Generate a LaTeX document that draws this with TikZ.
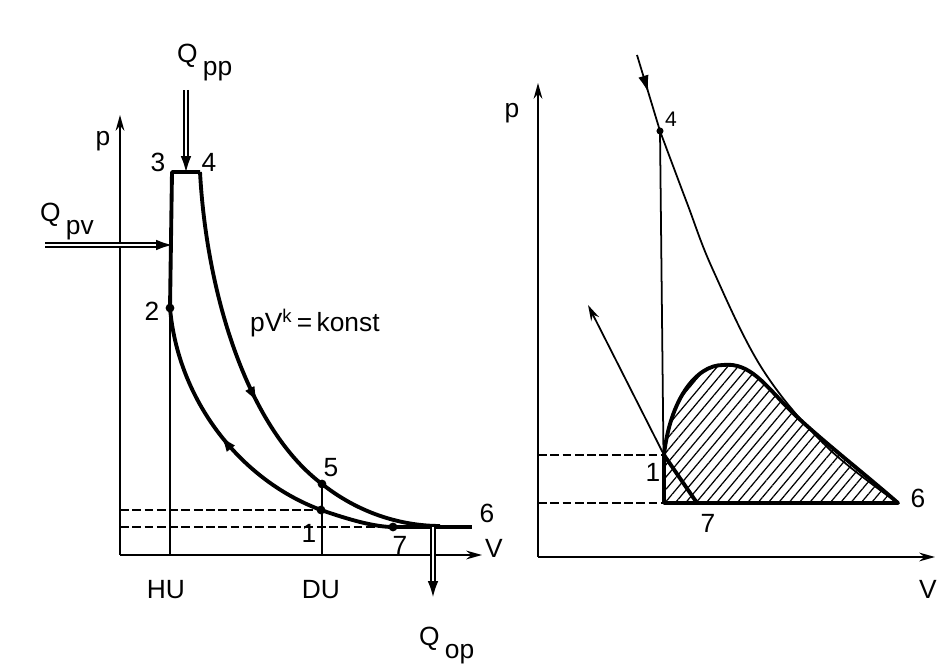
\documentclass[tikz,border=0pt]{standalone}
\usepackage{fontspec}
\setmainfont{Liberation Sans}
\usetikzlibrary{arrows.meta, decorations.markings, patterns.meta}

\begin{document}
\begin{tikzpicture}[x=0.02cm, y=-0.02cm, >={Stealth[length=9pt, width=5pt]},
  thinline/.style={line width=1pt},
  heavy/.style={line width=2.2pt, line join=round},
  dashline/.style={line width=1pt, dash pattern=on 5pt off 2pt},
  dot/.style={circle, fill, inner sep=0pt, minimum size=5pt},
  lbl/.style={font=\fontsize{15}{17}\selectfont, inner sep=1pt},
  heat/.style={double, double distance=1.6pt, line width=0.7pt, -{Latex[length=9pt, width=6pt]}},
  midarrow/.style={postaction={decorate}, decoration={markings,
    mark=at position #1 with {\arrow{Latex[length=10pt, width=6pt]}}}}]
  \useasboundingbox (0,0) rectangle (937,668);

  % left diagram: p-V cycle
  \coordinate (O1) at (120,555);
  \coordinate (ptipA) at (120,115);
  \coordinate (vtipA) at (482,555);
  \draw[thinline, ->] (O1) -- (ptipA);
  \draw[thinline, ->] (O1) -- (vtipA);

  \coordinate (n2) at (170,308);
  \coordinate (n3) at (172,172);
  \coordinate (n4) at (200,172);
  \coordinate (n5) at (322,484);
  \coordinate (n1) at (321,510);
  \coordinate (n7) at (393,527);
  \coordinate (n6) at (472,527);
  \coordinate (njoin) at (440,526);

  \draw[thinline] (n2) -- (n2 |- O1);
  \draw[thinline] (n5) -- (n5 |- O1);
  \draw[dashline] (O1 |- n1) -- (n1);
  \draw[dashline] (O1 |- n7) -- (n7);

  \draw[heavy] (n2) -- (n3) -- (n4);
  \draw[heavy, midarrow=0.7] (n4) .. controls (207,300) and (250,430) .. (n5);
  \draw[heavy] (n5) .. controls (365,518) and (410,526) .. (njoin);
  \draw[heavy, midarrow=0.48] (n1) .. controls (240,480) and (178,400) .. (n2);
  \draw[heavy] (n1) .. controls (350,520) and (375,527) .. (n7);
  \draw[heavy] (n7) -- (n6);
  \foreach \pt in {n2, n5, n1, n7} \node[dot] at (\pt) {};

  % heat flows
  \coordinate (qpv) at (45,245);
  \coordinate (qpp) at (186,90);
  \coordinate (qop) at (433,597);
  \draw[heat] (qpv) -- (qpv -| n3);
  \draw[heat] (qpp) -- (qpp |- n3);
  \draw[heat] (qop |- n6) -- (qop);

  \node[lbl] at (103,141) {p};
  \node[lbl] at (158,162) {3};
  \node[lbl] at (209,162) {4};
  \node[lbl] at (152,311) {2};
  \node[lbl] at (331,468) {5};
  \node[lbl] at (309,533) {1};
  \node[lbl] at (400,545) {7};
  \node[lbl] at (487,513) {6};
  \node[lbl] at (494,548) {V};
  \node[lbl] at (166,590) {HU};
  \node[lbl] at (321,590) {DU};
  \node[lbl, anchor=base west] at (38,222) {Q\kern3pt\raisebox{-7pt}{pv}};
  \node[lbl, anchor=base west] at (175,63) {Q\kern3pt\raisebox{-7pt}{pp}};
  \node[lbl, anchor=base west] at (417,646) {Q\kern3pt\raisebox{-7pt}{op}};
  \node[lbl, anchor=base west] at (248,332) {pV\textsuperscript{k}\,=\,konst};

  % right diagram: indicator loop
  \coordinate (O2) at (538,557);
  \coordinate (ptipB) at (538,83);
  \coordinate (vtipB) at (935,557);
  \draw[thinline, ->] (O2) -- (ptipB);
  \draw[thinline, ->] (O2) -- (vtipB);

  \coordinate (r4start) at (637,55);
  \coordinate (r4) at (660,131);
  \coordinate (r1) at (664,455);
  \coordinate (rb) at (664,503);
  \coordinate (r7) at (697,503);
  \coordinate (r6) at (898,503);
  \coordinate (rpeak) at (723,365);
  \coordinate (rtip) at (588,305);

  \draw[dashline] (O2 |- r1) -- (r1);
  \draw[dashline] (O2 |- rb) -- (rb);
  \draw[thinline] (r4) -- (rb);
  \draw[thinline, midarrow=0.5] (r4start) -- (r4);
  \draw[thinline] plot[smooth, tension=0.6] coordinates {(r4) (687,203) (713,270) (763,370) (827,447) (r6)};
  \node[dot, minimum size=4pt] at (r4) {};

  \draw[heavy, pattern={Lines[angle=50, distance=4.5pt, line width=0.7pt]}]
    (rb) -- (r1) .. controls (670,400) and (696,365) .. (rpeak)
    .. controls (750,362) and (765,385) .. (790,410)
    .. controls (815,435) and (860,470) .. (r6) -- cycle;
  \draw[thinline, ->] (r1) -- (rtip);
  \draw[heavy] (r1) -- (r7);

  \node[lbl] at (512,113) {p};
  \node[lbl, font=\fontsize{12}{14}\selectfont] at (671,119) {4};
  \node[lbl] at (653,472) {1};
  \node[lbl] at (708,523) {7};
  \node[lbl] at (918,498) {6};
  \node[lbl, anchor=east, inner sep=0pt] at (937,589) {V};
\end{tikzpicture}
\end{document}
